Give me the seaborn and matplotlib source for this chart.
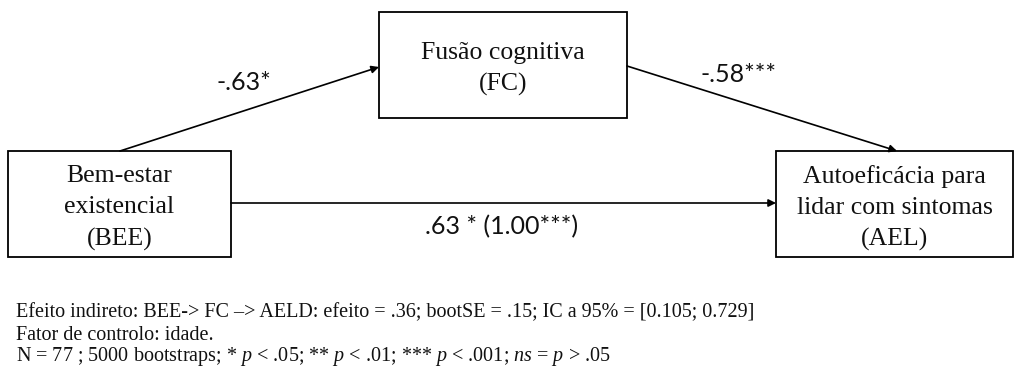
import matplotlib
matplotlib.use("Agg")
import matplotlib.pyplot as plt
import matplotlib.patches as patches
import seaborn as sns

# mediation model: nodes, paths, notes
node_labels = ["Bem-estar\nexistencial\n(BEE)",
               "Fusão cognitiva\n(FC)",
               "Autoeficácia para\nlidar com sintomas\n(AEL)"]
path_coefs = ["-.63*", "-.58***", ".63 * (1.00***)"]
footer_lines = [
    "Efeito indireto: BEE-> FC \u2013> AELD: efeito = .36; bootSE = .15; IC a 95% = [0.105; 0.729]",
    "Fator de controlo: idade.",
    r"N = 77 ; 5000 bootstraps; * $\mathit{p}$ < .05; ** $\mathit{p}$ < .01; *** $\mathit{p}$ < .001; "
    r"$\mathit{ns}$ = $\mathit{p}$ > .05",
]

sns.set_theme(style="white")
plt.rcParams["font.family"] = ["Liberation Serif", "DejaVu Serif"]
plt.rcParams["mathtext.fontset"] = "custom"
plt.rcParams["mathtext.rm"] = "Liberation Serif"
plt.rcParams["mathtext.it"] = "Liberation Serif:italic"

W, H = 1016, 369
fig = plt.figure(figsize=(W / 100, H / 100), dpi=100)
ax = fig.add_axes([0, 0, 1, 1])
ax.set_xlim(0, W)
ax.set_ylim(H, 0)
ax.axis("off")

# box layout in pixels: x0, y0, x1, y1
boxes = [(8, 151, 231, 257), (379, 12, 627, 118), (776, 151, 1013, 257)]
for (x0, y0, x1, y1), lab in zip(boxes, node_labels):
    ax.add_patch(patches.Rectangle((x0, y0), x1 - x0, y1 - y0, fill=False,
                                   ec="black", lw=1.3))
    ax.text((x0 + x1) / 2, (y0 + y1) / 2 + 4, lab, ha="center", va="center",
            fontsize=18.5, linespacing=1.52, color="#111111")

arrow = dict(arrowstyle="-|>", lw=1.2, color="black", mutation_scale=11,
             shrinkA=0, shrinkB=0)
bee, fc, ael = boxes
ax.annotate("", xy=(fc[0], 67), xytext=(120, bee[1]), arrowprops=arrow)
ax.annotate("", xy=(897, ael[1]), xytext=(fc[2], 66), arrowprops=arrow)
ax.annotate("", xy=(ael[0], 203), xytext=(bee[2], 203), arrowprops=arrow)

coef_pos = [(244, 82), (738, 75), (502, 227)]
for (x, y), c in zip(coef_pos, path_coefs):
    ax.text(x, y, c, ha="center", va="center", fontsize=18,
            family=["Lato", "DejaVu Sans"], color="#111111")

for i, line in enumerate(footer_lines):
    ax.text(16, 313 + 22 * i, line, ha="left", va="center", fontsize=14.5,
            color="#111111")

fig.savefig("out.png", dpi=100)
